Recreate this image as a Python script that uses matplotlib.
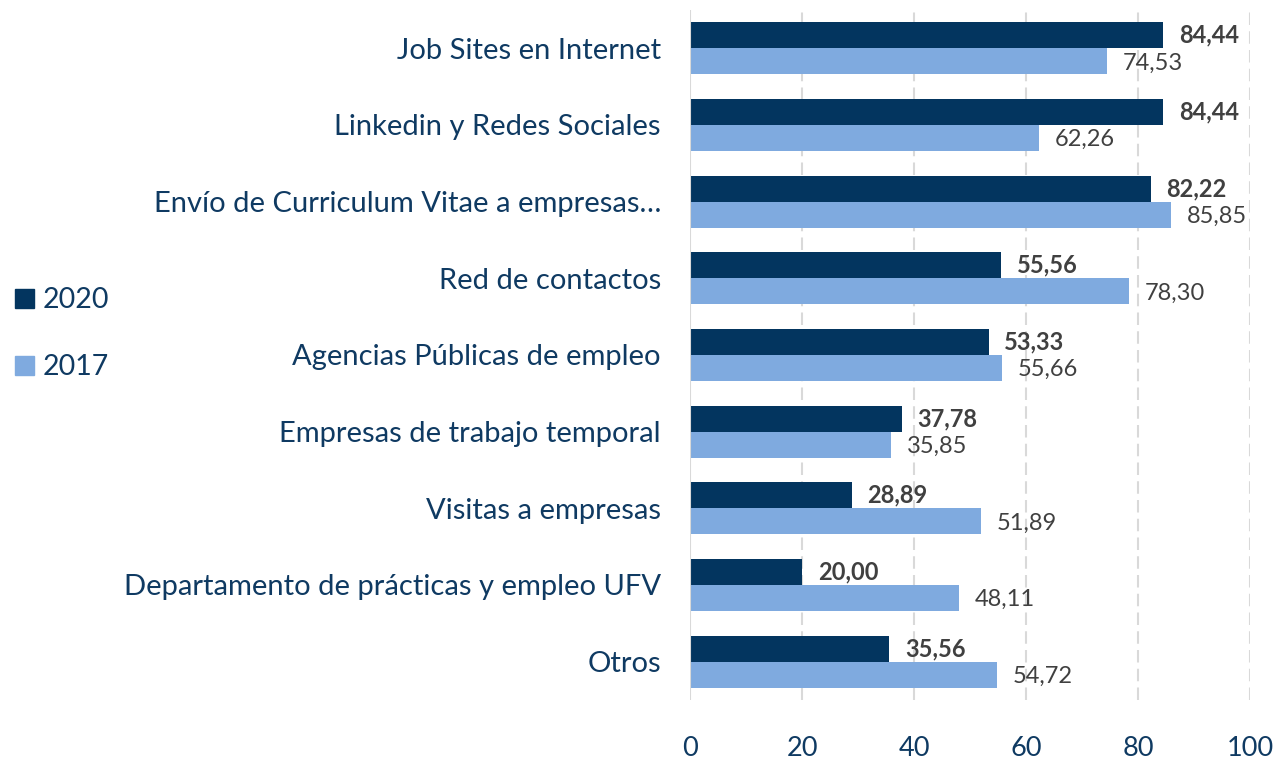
import matplotlib.pyplot as plt
import numpy as np
from matplotlib.patches import Patch

categories = ['Job Sites en Internet', 'Linkedin y Redes Sociales',
              'Envío de Curriculum Vitae a empresas…', 'Red de contactos',
              'Agencias Públicas de empleo', 'Empresas de trabajo temporal',
              'Visitas a empresas', 'Departamento de prácticas y empleo UFV',
              'Otros']
v2020 = [84.44, 84.44, 82.22, 55.56, 53.33, 37.78, 28.89, 20.00, 35.56]
v2017 = [74.53, 62.26, 85.85, 78.30, 55.66, 35.85, 51.89, 48.11, 54.72]
xticks = [0, 20, 40, 60, 80, 100]

dark = '#03355f'
light = '#7faadf'
navy = '#0f3a62'
grey = '#404040'

plt.rcParams['font.family'] = ['Lato', 'DejaVu Sans']

fig = plt.figure(figsize=(12.76, 7.62), dpi=100)
ax = fig.add_axes([0.5408, 0.0814, 0.4389, 0.9055])

y = np.arange(len(categories))
h = 0.34
ax.barh(y - h / 2, v2020, height=h, color=dark, zorder=3)
ax.barh(y + h / 2, v2017, height=h, color=light, zorder=3)

for yi, a, b in zip(y, v2020, v2017):
    ax.text(a + 2.8, yi - h / 2, f'{a:.2f}'.replace('.', ','), va='center', ha='left',
            fontsize=17, fontweight='bold', color=grey)
    ax.text(b + 2.8, yi + h / 2 + 0.02, f'{b:.2f}'.replace('.', ','), va='center', ha='left',
            fontsize=17, color=grey)

ax.set_ylim(len(categories) - 0.5, -0.5)
ax.set_xlim(0, 100)
ax.set_yticks(y)
ax.set_yticklabels(categories, fontsize=21, color=navy)
ax.set_xticks(xticks)
ax.set_xticklabels([str(t) for t in xticks], fontsize=19.5, color=navy)
ax.tick_params(axis='both', length=0)
ax.tick_params(axis='y', pad=21)
ax.tick_params(axis='x', pad=26)

for t in xticks[1:]:
    ax.axvline(t, color='#d9d9d9', lw=1.5, ls=(0, (6, 3)), zorder=1)
ax.axvline(0, color='#d9d9d9', lw=1.5, zorder=4)
for s in ax.spines.values():
    s.set_visible(False)

handles = [Patch(color=dark, label='2020'), Patch(color=light, label='2017')]
fig.legend(handles=handles, loc='center left', bbox_to_anchor=(-0.008, 0.562),
           frameon=False, fontsize=20.5, labelcolor=navy, handlelength=0.65,
           handleheight=0.65, handletextpad=0.3, labelspacing=1.45)

fig.savefig('out.png', dpi=100)
